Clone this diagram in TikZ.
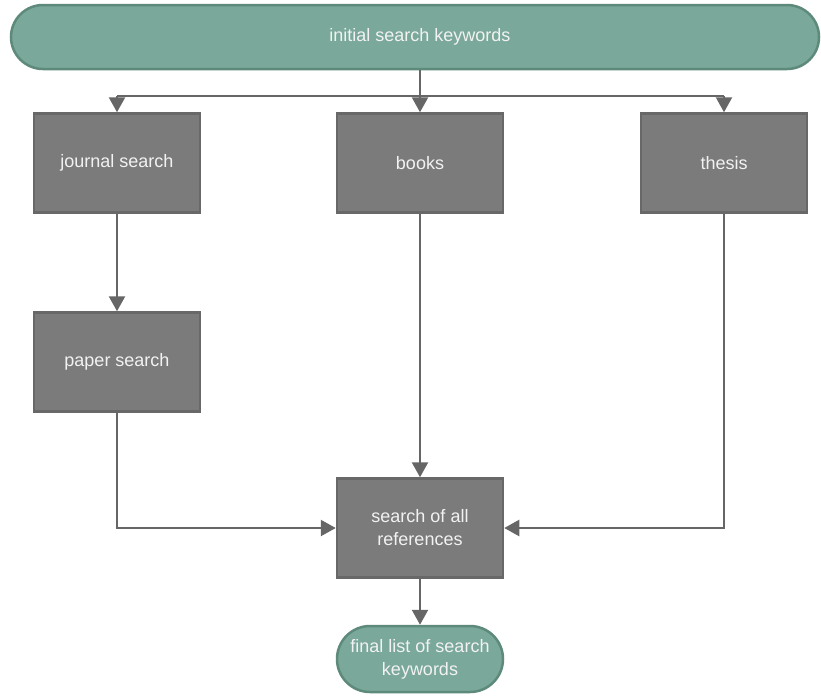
\documentclass[tikz,border=0pt]{standalone}
\usepackage{fontspec}
\setmainfont{Liberation Sans}
\usetikzlibrary{arrows.meta,shapes.misc}
\definecolor{tealfill}{HTML}{7AA89A}
\definecolor{tealdraw}{HTML}{5E8A7C}
\definecolor{boxfill}{HTML}{7B7B7B}
\definecolor{boxdraw}{HTML}{686868}
\definecolor{linec}{HTML}{666666}
\definecolor{txt}{HTML}{F2F2F2}
\begin{document}
\begin{tikzpicture}[x=1pt,y=-1pt,
  every node/.style={font=\fontsize{18}{23}\selectfont, text=txt, align=center, inner sep=0pt},
  stepbox/.style={draw=boxdraw, line width=2.5pt, fill=boxfill, minimum width=166pt, minimum height=99pt},
  term/.style={draw=tealdraw, line width=2.5pt, fill=tealfill, rounded rectangle},
  conn/.style={draw=linec, line width=2.3pt, -{Triangle[length=15pt,width=16pt]}},
  plain/.style={draw=linec, line width=2.3pt}]
\useasboundingbox (0,0) rectangle (821,697);
\node[term, minimum width=808pt, minimum height=64pt] (top) at (415,37) {\hspace*{10pt}initial search keywords};
\node[stepbox] (journal) at (117,163) {journal search};
\node[stepbox] (books) at (420,163) {books};
\node[stepbox] (thesis) at (724,163) {thesis};
\node[stepbox] (paper) at (117,362) {paper search};
\node[stepbox] (refs) at (420,528) {search of all\\references};
\node[term, minimum width=166pt, minimum height=66pt] (final) at (420,659) {final list of search\\keywords};
\coordinate (split) at (420,96);
\coordinate (jl) at (117,96);
\coordinate (tl) at (724,96);
\draw[plain] (top.south -| split) -- (split);
\draw[plain] (jl) -- (tl);
\draw[conn] (jl) -- (journal.north);
\draw[conn] (split) -- (books.north);
\draw[conn] (tl) -- (thesis.north);
\draw[conn] (journal) -- (paper);
\draw[conn] (books) -- (refs);
\draw[conn] (paper.south) |- (refs.west);
\draw[conn] (thesis.south) |- (refs.east);
\draw[conn] (refs) -- (final);
\end{tikzpicture}
\end{document}
